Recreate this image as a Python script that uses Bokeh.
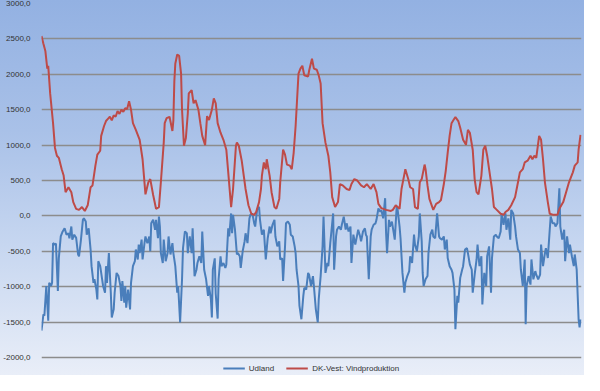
from bokeh.plotting import figure
from bokeh.models import Range1d, FixedTicker, CustomJSTickFormatter, Legend, LegendItem
from bokeh.embed import file_html
from bokeh.resources import INLINE

y_ticks = [-2000, -1500, -1000, -500, 0, 500, 1000, 1500, 2000, 2500, 3000]
series_names = ["Udland", "DK-Vest: Vindproduktion"]

t_udland = [0, 2, 3, 5, 7, 8, 10, 11, 12, 14, 15, 17, 18, 20, 22, 24, 26, 28, 29, 31, 32, 34, 36, 38, 39, 41, 43, 44, 46, 47, 49,
            51, 52, 54, 55, 57, 58, 59, 61, 63, 64, 66, 67, 68, 70, 72, 73, 75, 76, 78, 80, 82, 83, 84, 86, 87, 88, 90, 92, 93, 95,
            97, 98, 100, 101, 102, 104, 105, 107, 108, 110, 112, 113, 114, 116, 118, 119, 121, 122, 123, 124, 126, 127, 129, 131,
            132, 134, 136, 137, 139, 141, 142, 144, 146, 147, 149, 151, 152, 154, 156, 157, 159, 161, 162, 164, 166, 167, 169, 171,
            173, 174, 176, 177, 178, 180, 181, 183, 184, 186, 187, 189, 191, 192, 194, 195, 197, 198, 199, 201, 203, 204, 206, 207,
            209, 211, 212, 214, 216, 217, 219, 221, 222, 224, 226, 227, 229, 231, 232, 233, 235, 237, 238, 240, 242, 243, 245, 247,
            248, 250, 251, 253, 254, 256, 258, 259, 261, 263, 264, 265, 267, 268, 270, 272, 273, 275, 277, 278, 280, 282, 283, 285,
            287, 288, 290, 292, 293, 295, 297, 298, 300, 302, 303, 304, 306, 307, 309, 311, 312, 314, 316, 317, 319, 321, 322, 324,
            326, 327, 329, 331, 332, 334, 336, 337, 338, 340, 342, 343, 345, 347, 348, 350, 352, 353, 355, 357, 358, 359, 361, 362,
            364, 366, 367, 369, 370, 372, 373, 375, 377, 378, 380, 382, 383, 385, 387, 388, 390, 392, 393, 395, 396, 397, 399, 401,
            402, 404, 406, 407, 409, 411, 413, 414, 416, 418, 419, 421, 422, 424, 426, 427, 429, 430, 432, 433, 435, 437, 438, 440,
            442, 443, 445, 447, 448, 450, 452, 453, 455, 457, 458, 460, 462, 463, 465, 467, 468, 470, 472, 473, 475, 477, 478, 480,
            482, 483, 485, 487, 488, 490, 492, 493, 495, 497, 498, 500, 502, 503, 504, 506, 508, 509, 511, 513, 514, 516, 518, 519,
            521, 523, 524, 526, 528, 529, 531, 533, 534, 536, 538, 539, 541, 543, 544, 546, 548, 549, 551, 553, 554, 556, 558, 559, 560]
udland = [-1620, -1390, -1410, -990, -1480, -945, -990, -945, -385, -405, -390, -1060, -595, -290, -220, -175, -265, -245, -315, -150, -335, -265, -310, -545, -570, -335, -55, -35, -80, -265, -175,
          -475, -710, -945, -895, -1040, -1180, -640, -710, -895, -990, -1085, -710, -945, -525, -1085, -1435, -1320, -1085, -805, -850, -990, -1200, -920, -1225, -990, -1295, -1040, -1320, -945, -710,
          -640, -475, -615, -405, -525, -335, -615, -385, -290, -385, -290, -500, -105, -55, -195, -55, -315, -10, -150, -525, -665, -335, -640, -525,
          -290, -545, -385, -525, -710, -1085, -990, -1505, -895, -455, -220, -245, -525, -290, -525, -175, -850, -760, -665, -570, -665, -220, -760, -895,
          -1130, -990, -1180, -1435, -760, -600, -1100, -1450, -895, -570, -710, -665, -735, -685, -175, -290, 35, -245, 15, -195, -545, -525, -570, -735,
          -500, -360, -245, -385, -35, 15, 35, -105, -150, 85, 130, -55, -265, -195, -405, -615, -315, -150, -245, -125, -55, -290, -430, -360,
          -615, -600, -920, -430, -105, -80, -125, -265, -290, -430, -525, -760, -990, -1270, -1460, -1130, -1015, -1040, -805, -830, -990, -850, -990, -1320,
          -1505, -1180, -850, -430, -10, -805, -665, -710, -385, -105, 35, -760, -290, -195, -150, -195, -125, -10, -195, -105, -220, -150, -665, -265,
          -405, -335, -195, -290, -360, -220, -175, -265, -290, -895, -290, -195, -125, -105, -55, 105, 60, 85, -35, 250, -245, -525, -55, -150,
          -80, -245, -335, 130, 85, -150, -315, -805, -1085, -945, -850, -780, -570, -665, -265, -405, -500, -290, 35, -360, -805, -990, -895, -850,
          -525, -265, -195, -290, -315, 35, -290, -315, -335, -290, -475, -335, -595, -710, -760, -805, -1040, -1600, -1130, -1225, -875, -760, -710, -475,
          -455, -525, -685, -760, -1085, -830, -615, -405, -710, -570, -1250, -805, -990, -570, -430, -1085, -595, -290, -265, -290, -315, -220, 35, -125,
          35, -195, -35, -335, 85, 35, -150, -290, -475, -525, -760, -990, -615, -1530, -990, -850, -970, -615, -895, -780, -830, -895, -830, -405,
          -710, -525, -455, -595, -195, -10, -105, -105, -150, -105, 390, -150, -335, -195, -640, -290, -525, -405, -570, -710, -545, -760, -1460, -1575, -1460]

t_vind = [0, 2, 4, 6, 7, 9, 12, 14, 16, 18, 21, 23, 25, 28, 31, 33, 36, 39, 42, 45, 48, 51, 53, 56, 58, 61, 62, 65, 67, 69, 71, 73, 75,
          77, 79, 81, 83, 85, 87, 89, 91, 93, 95, 98, 102, 105, 108, 111, 113, 116, 119, 122, 124, 127, 128, 130, 133, 136, 137, 138,
          139, 141, 143, 145, 146, 148, 150, 152, 153, 156, 158, 160, 163, 165, 167, 170, 172, 174, 177, 179, 181, 183, 186, 189, 192,
          194, 197, 199, 202, 203, 205, 207, 208, 212, 215, 218, 221, 223, 226, 228, 229, 231, 233, 234, 237, 239, 242, 244, 247, 248,
          251, 253, 255, 258, 260, 262, 264, 267, 269, 271, 273, 277, 278, 281, 283, 286, 288, 290, 292, 295, 298, 300, 302, 305, 308,
          310, 313, 317, 320, 322, 325, 328, 332, 335, 338, 342, 345, 348, 350, 353, 358, 363, 365, 368, 372, 374, 377, 378, 381, 383,
          386, 388, 391, 393, 395, 398, 399, 401, 403, 407, 410, 413, 415, 418, 420, 422, 424, 426, 428, 430, 433, 435, 438, 441, 443,
          445, 448, 450, 452, 454, 457, 459, 461, 463, 465, 468, 470, 473, 477, 480, 482, 485, 488, 492, 494, 497, 500, 502, 505, 508,
          510, 512, 514, 517, 519, 521, 523, 526, 528, 532, 536, 538, 542, 545, 548, 552, 554, 557, 558, 560]
vind = [2540, 2430, 2330, 2080, 2120, 1730, 1310, 960, 850, 820, 660, 570, 335, 405, 335, 195, 100, 85, 125, 70, 150, 405, 430, 710, 865, 920, 1130, 1270, 1340, 1370, 1400, 1350, 1420,
        1400, 1480, 1440, 1500, 1470, 1520, 1510, 1620, 1500, 1310, 1215, 1075, 800, 305, 475, 520, 295, 100, 125, 475, 1035, 1310, 1380, 1400, 1200, 1350, 1900,
        2150, 2280, 2260, 2010, 1500, 990, 1100, 1450, 1730, 1775, 1590, 1635, 1500, 1310, 1130, 1000, 1410, 1355, 1500, 1660, 1590, 1310, 1175, 1075, 935,
        615, 125, 380, 990, 1035, 990, 850, 780, 380, 150, 30, 15, 55, 195, 380, 570, 755, 660, 800, 570, 335, 125, 100, 240, 475,
        935, 865, 725, 710, 660, 895, 1270, 2010, 2080, 2120, 1985, 1970, 2050, 2220, 2080, 2065, 1985, 1870, 1310, 1035, 850, 615, 265, 125, 195,
        450, 430, 380, 365, 450, 520, 500, 430, 405, 450, 380, 450, 335, 170, 110, 85, 70, 85, 150, 100, 380, 590, 660, 520, 405,
        380, 125, 100, 475, 520, 725, 660, 430, 240, 85, 170, 195, 225, 450, 640, 895, 1130, 1310, 1355, 1395, 1340, 1245, 1075, 1005, 1215,
        1175, 935, 520, 335, 305, 570, 935, 990, 850, 660, 380, 125, 85, 30, 15, 55, 85, 150, 265, 405, 615, 660, 755, 780, 850,
        800, 850, 820, 1130, 1075, 800, 475, 195, 30, 15, 15, 100, 195, 335, 475, 615, 710, 755, 935, 1145]

p = figure(width=584, height=375, output_backend="svg", toolbar_location=None,
           x_range=Range1d(0, 561), y_range=Range1d(-2254, 3000),
           x_axis_location=None, min_border_left=0, min_border_right=3,
           min_border_top=3, min_border_bottom=0)
p.styles = {"background": "linear-gradient(to bottom, #93b1e2 0%, #a9c1e8 35%, #c6d6f0 65%, #e9eef8 100%)"}
p.border_fill_alpha = 0
p.background_fill_alpha = 0
p.outline_line_color = None

r1 = p.line(t_udland, udland, line_color="#4a7ebb", line_width=2)
r2 = p.line(t_vind, vind, line_color="#be4b48", line_width=2)

p.xgrid.visible = False
p.ygrid.grid_line_color = "#8c8c8c"
p.ygrid.grid_line_width = 1.3
p.yaxis.ticker = FixedTicker(ticks=y_ticks)
p.yaxis.formatter = CustomJSTickFormatter(code="return tick.toFixed(1).replace('.', ',');")
p.yaxis.axis_line_color = None
p.yaxis.major_tick_line_color = None
p.yaxis.minor_tick_line_color = None
p.yaxis.major_label_text_font = "Liberation Sans"
p.yaxis.major_label_text_font_size = "8px"
p.yaxis.major_label_text_color = "#333333"
p.yaxis.major_label_standoff = 5

legend = Legend(items=[LegendItem(label=series_names[0], renderers=[r1]),
                       LegendItem(label=series_names[1], renderers=[r2])],
                orientation="horizontal", location="bottom_center")
legend.background_fill_alpha = 0
legend.border_line_alpha = 0
legend.label_text_font = "Liberation Sans"
legend.label_text_font_size = "8px"
legend.label_text_color = "#333333"
legend.glyph_width = 22
legend.glyph_height = 10
legend.spacing = 12
legend.padding = 2
legend.margin = 0
legend.label_standoff = 4
p.add_layout(legend)

open("out.html", "w").write(file_html(p, INLINE))
